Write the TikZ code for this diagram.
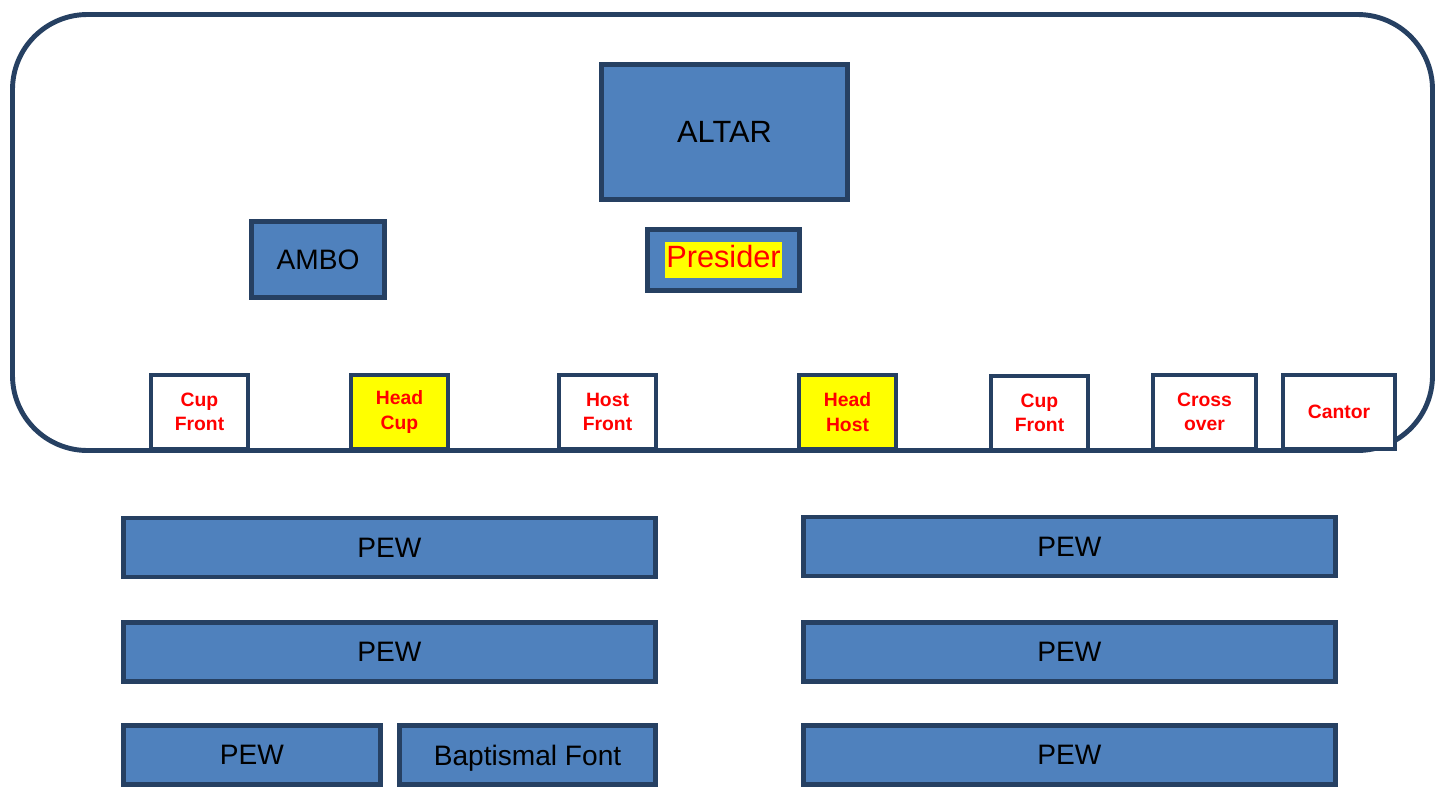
\documentclass[tikz,border=0pt]{standalone}
\usepackage{fontspec}
\setmainfont{Liberation Sans}
\usetikzlibrary{positioning}
\definecolor{boxblue}{RGB}{79,129,189}
\definecolor{edgeblue}{RGB}{38,64,98}
\definecolor{hilite}{RGB}{255,255,0}
\definecolor{labelred}{RGB}{255,0,0}

\tikzset{
    furniture/.style={draw=edgeblue, line width=2.8pt, fill=boxblue, inner sep=0pt,
        text depth=0pt, font=\fontsize{16}{19}\selectfont},
    bigpiece/.style={furniture, font=\fontsize{17.5}{20}\selectfont},
    station/.style={draw=edgeblue, line width=2.3pt, fill=white, inner sep=0pt,
        minimum width=1.94cm, minimum height=1.48cm, align=center,
        text=labelred, font=\fontsize{11}{14}\selectfont\bfseries},
    headstation/.style={station, fill=hilite},
    pew/.style={furniture, minimum width=10.64cm, minimum height=1.18cm}
}

\begin{document}
\begin{tikzpicture}[x=0.02cm, y=-0.02cm]
    \useasboundingbox (0,0) rectangle (1443,788);

    % Sanctuary
    \draw[edgeblue, line width=2.8pt, rounded corners=1.5cm] (12.5,14.5) rectangle (1432.5,450.5);

    \node[bigpiece, minimum width=4.92cm, minimum height=2.70cm] (altar) at (724.5,132) {ALTAR};
    \node[bigpiece, minimum width=3.04cm, minimum height=1.22cm, text depth=] (presider) at (723.5,260)
        {\setlength{\fboxsep}{0.5pt}\colorbox{hilite}{\textcolor{labelred}{\strut Presider}}};
    \node[furniture, minimum width=2.66cm, minimum height=1.52cm] (ambo) at (318,259.5) {AMBO};

    % Ministers along the front
    \node[station] (cupfrontL) at (199.5,412) {Cup\\Front};
    \node[headstation] (headcup) at (399.5,412) {Head\\Cup};
    \node[station] (hostfront) at (607.5,412) {Host\\Front};
    \node[headstation] (headhost) at (847.5,412) {Head\\Host};
    \node[station] (cupfrontR) at (1039.5,413) {Cup\\Front};
    \node[station, minimum width=2.06cm] (crossover) at (1204.5,412) {Cross\\over};
    \node[station, minimum width=2.24cm] (cantor) at (1339,412) {Cantor};

    % Pews
    \node[pew] (pewL1) at (389.5,547.5) {PEW};
    \node[pew] (pewR1) at (1069.5,546.5) {PEW};
    \node[pew] (pewL2) at (389.5,652) {PEW};
    \node[pew] (pewR2) at (1069.5,652) {PEW};
    \node[pew, minimum width=5.14cm] (pewL3) at (252,755) {PEW};
    \node[pew, minimum width=5.12cm] (font) at (527.5,755) {Baptismal Font};
    \node[pew] (pewR3) at (1069.5,755) {PEW};
\end{tikzpicture}
\end{document}
